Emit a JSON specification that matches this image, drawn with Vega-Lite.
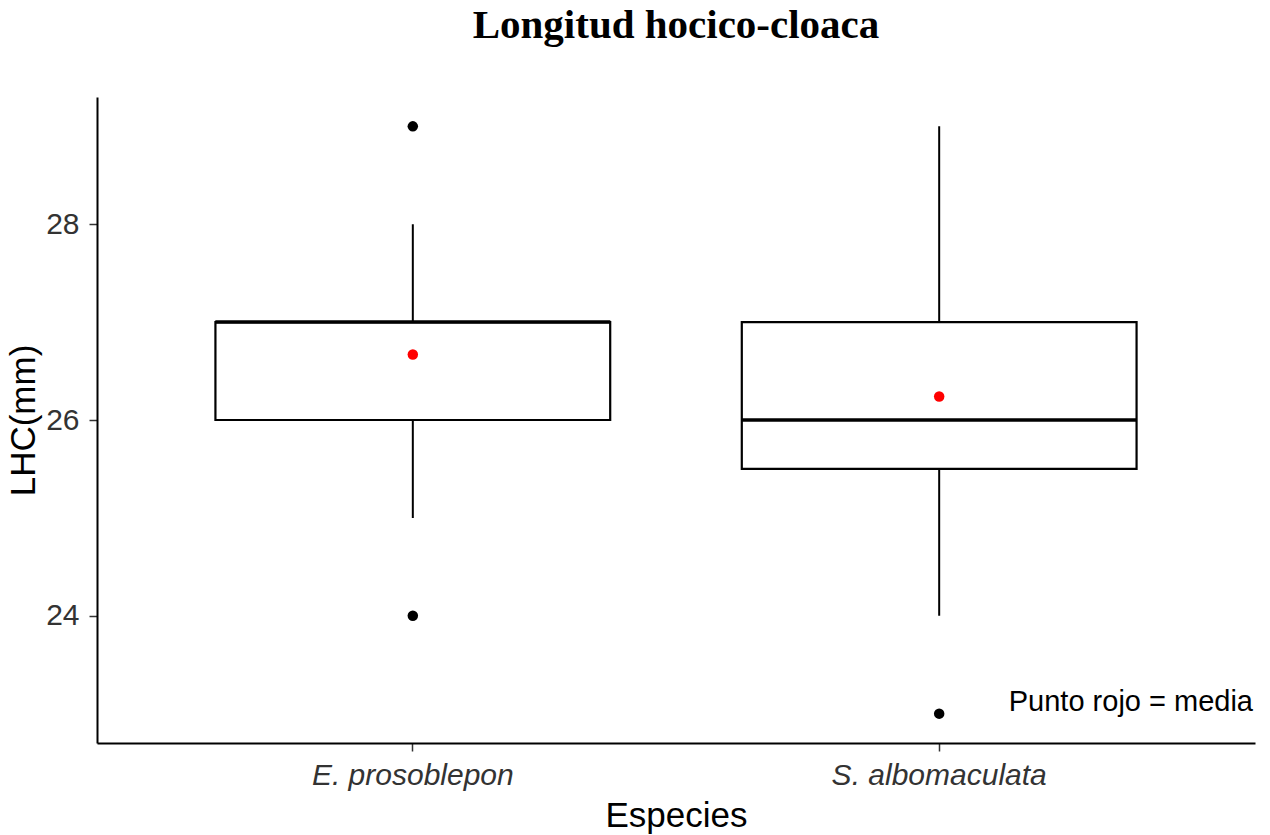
{
  "$schema": "https://vega.github.io/schema/vega-lite/v6.json",
  "autosize": {"type": "none"},
  "width": 1158,
  "height": 646,
  "padding": {"left": 97, "top": 97, "right": 15, "bottom": 92},
  "background": "white",
  "title": {
    "text": "Longitud hocico-cloaca",
    "font": "Liberation Serif",
    "fontSize": 41,
    "fontWeight": "bold",
    "color": "black",
    "anchor": "middle",
    "offset": 50
  },
  "config": {
    "view": {"stroke": null},
    "font": "Liberation Sans"
  },
  "datasets": {
    "boxes": [
      {"especie": "E. prosoblepon", "lower": 25, "q1": 26, "median": 27, "q3": 27, "upper": 28, "mean": 26.67},
      {"especie": "S. albomaculata", "lower": 24, "q1": 25.5, "median": 26, "q3": 27, "upper": 29, "mean": 26.24}
    ],
    "outliers": [
      {"especie": "E. prosoblepon", "valor": 29},
      {"especie": "E. prosoblepon", "valor": 24},
      {"especie": "S. albomaculata", "valor": 23}
    ],
    "note": [
      {"label": "Punto rojo = media", "y": 23.12}
    ]
  },
  "encoding": {
    "x": {
      "field": "especie",
      "type": "nominal",
      "sort": ["E. prosoblepon", "S. albomaculata"],
      "scale": {"type": "band", "paddingInner": 0.25, "paddingOuter": 0.225, "domain": ["E. prosoblepon", "S. albomaculata"]},
      "axis": {
        "title": "Especies",
        "titleFont": "Liberation Sans",
        "titleFontSize": 35,
        "titleFontWeight": "normal",
        "titleColor": "black",
        "titlePadding": 8,
        "labelFont": "Liberation Sans",
        "labelFontSize": 30,
        "labelFontStyle": "italic",
        "labelColor": "#333333",
        "labelPadding": 9,
        "labelLimit": 0,
        "labelAngle": 0,
        "domainColor": "black",
        "domainWidth": 2,
        "tickColor": "#333333",
        "tickWidth": 1.5,
        "tickSize": 8,
        "grid": false
      }
    }
  },
  "layer": [
    {
      "data": {"name": "boxes"},
      "mark": {"type": "rule", "color": "black", "strokeWidth": 2},
      "encoding": {
        "y": {
          "field": "lower",
          "type": "quantitative",
          "scale": {"domain": [22.7, 29.3], "nice": false, "zero": false},
          "axis": {
            "title": "LHC(mm)",
            "titleFont": "Liberation Sans",
            "titleFontSize": 35,
            "titleFontWeight": "normal",
            "titleColor": "black",
            "titlePadding": 4,
            "values": [24, 26, 28],
            "format": "d",
            "labelFont": "Liberation Sans",
            "labelFontSize": 30,
            "labelColor": "#333333",
            "labelPadding": 10,
            "domainColor": "black",
            "domainWidth": 2,
            "tickColor": "#333333",
            "tickWidth": 1.5,
            "tickSize": 8,
            "grid": false
          }
        },
        "y2": {"field": "upper"}
      }
    },
    {
      "data": {"name": "boxes"},
      "mark": {"type": "bar", "fill": "white", "stroke": "black", "strokeWidth": 2.2},
      "encoding": {
        "y": {"field": "q1", "type": "quantitative"},
        "y2": {"field": "q3"}
      }
    },
    {
      "data": {"name": "boxes"},
      "mark": {"type": "tick", "color": "black", "opacity": 1, "thickness": 3.5, "size": 395, "orient": "horizontal"},
      "encoding": {
        "y": {"field": "median", "type": "quantitative"}
      }
    },
    {
      "data": {"name": "outliers"},
      "mark": {"type": "circle", "color": "black", "opacity": 1, "size": 110},
      "encoding": {
        "y": {"field": "valor", "type": "quantitative"}
      }
    },
    {
      "data": {"name": "boxes"},
      "mark": {"type": "circle", "color": "red", "opacity": 1, "size": 110},
      "encoding": {
        "y": {"field": "mean", "type": "quantitative"}
      }
    },
    {
      "data": {"name": "note"},
      "mark": {"type": "text", "align": "right", "baseline": "middle", "font": "Liberation Sans", "fontSize": 29, "color": "black", "dx": -2},
      "encoding": {
        "x": {"value": "width"},
        "y": {"field": "y", "type": "quantitative"},
        "text": {"field": "label"}
      }
    }
  ]
}
